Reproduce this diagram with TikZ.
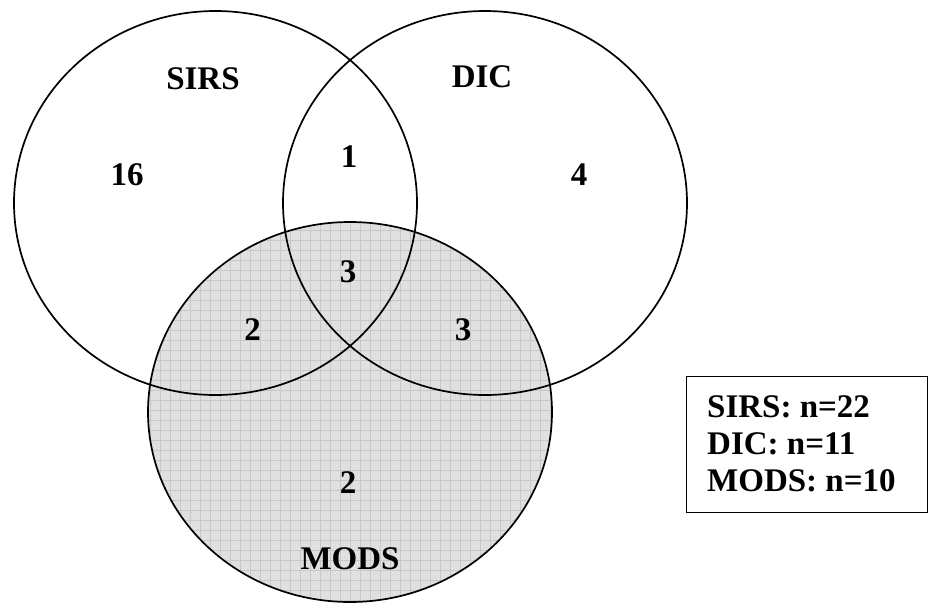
\documentclass[tikz,border=0pt]{standalone}
\usepackage{fontspec}
\setmainfont{Liberation Serif}
\usepackage{xcolor}
\usepackage{tikz}
\usetikzlibrary{positioning}

\definecolor{modsgray}{HTML}{E0E0E0}
\definecolor{gridgray}{HTML}{C8C8C8}

\tikzset{
  venn/.style={line width=1.7pt,black},
  count/.style={font=\bfseries\fontsize{33}{37}\selectfont,inner sep=0pt},
  setname/.style={count}
}

\begin{document}
\begin{tikzpicture}[x=1pt,y=-1pt]
  \useasboundingbox (0,0) rectangle (928,603);
  \coordinate (sirsc) at (215.5,203);
  \coordinate (dicc) at (485,203);
  \coordinate (modsc) at (350,412);
  % shaded MODS set
  \begin{scope}
    \clip (modsc) ellipse [x radius=202, y radius=190];
    \fill[modsgray] (140,215) rectangle (560,610);
    \draw[gridgray,line width=0.6pt,step=10pt] (140,210) grid (560,610);
  \end{scope}
  \draw[venn] (sirsc) ellipse [x radius=201.5, y radius=192];
  \draw[venn] (dicc) ellipse [x radius=202, y radius=192];
  \draw[venn] (modsc) ellipse [x radius=202, y radius=190];
  % set names
  \node[setname] (sirs) at (203,79) {SIRS};
  \node[setname] (dic) at (482,77) {DIC};
  \node[setname] (mods) at (350,559) {MODS};
  % counts
  \node[count] (nS) at (127,175) {16};
  \node[count] (nSD) at (349,157) {1};
  \node[count] (nD) at (579,175) {4};
  \node[count] (nSDM) at (348,272) {3};
  \node[count] (nSM) at (252.5,330) {2};
  \node[count] (nDM) at (463,330) {3};
  \node[count] (nM) at (348,483) {2};
  % legend
  \node[draw,line width=1.4pt,minimum width=241pt,minimum height=136pt,inner sep=0pt,anchor=north west] (legend) at (686,376) {};
  \node[count,align=left,anchor=west] (legendtxt) at (707,444) {SIRS: n=22\\DIC: n=11\\MODS: n=10};
\end{tikzpicture}
\end{document}
